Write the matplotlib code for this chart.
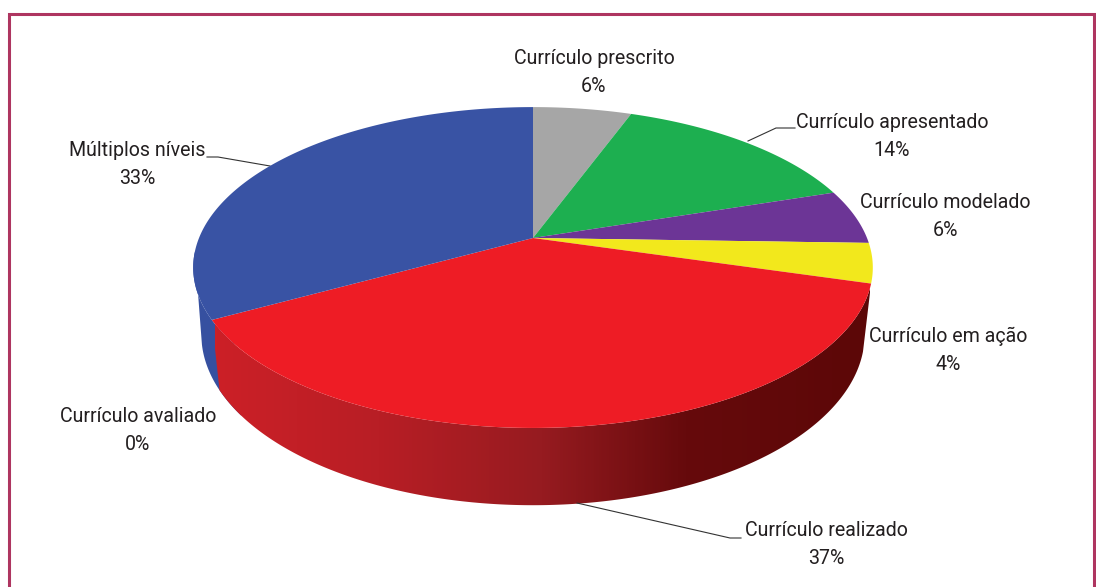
import numpy as np
import matplotlib
matplotlib.use("Agg")
import matplotlib.pyplot as plt
from matplotlib.colors import LinearSegmentedColormap
from matplotlib.patches import Polygon

# slices clockwise from 12 o'clock
names = ["Currículo prescrito", "Currículo apresentado", "Currículo modelado",
         "Currículo em ação", "Currículo realizado", "Currículo avaliado", "Múltiplos níveis"]
shares = [5.6, 14.4, 5.5, 4.0, 37.5, 0.0, 33.0]
shown = ["6%", "14%", "6%", "4%", "37%", "0%", "33%"]
colors = ["#A6A6A6", "#1DAF50", "#6C3596", "#F2E81C", "#EE1C25", "#EE1C25", "#3953A4"]

label_x = [594, 892, 945, 948, 826, 138, 137]
label_y = [59, 122, 202, 336, 531, 417, 150]

plt.rcParams['font.family'] = ['Roboto', 'DejaVu Sans']

K = 0.184


def top(a):
    x, y = np.sin(a), np.cos(a)
    w = 1 + K * y
    return 533 + 334 * x / w, 238 - 155 * y / w


def bottom(a):
    x, y = np.sin(a), np.cos(a)
    w = 1 + K * y
    return 533 + 326 * x / w, 303 - 165 * y / w


fig = plt.figure(figsize=(10.96, 5.87), dpi=100)
ax = fig.add_axes([0, 0, 1, 1])

# frame
ax.plot([9, 9, 1094, 1094], [587, 14, 14, 587], color="#AE3560", lw=2.2, solid_joinstyle="miter")

edges = np.cumsum([0] + shares) / 100 * 2 * np.pi
red_a, red_b = edges[4], edges[5]

# blue wall, left edge runs straight from the rim down to the lower disc
# starts a bit before the red edge so no gap shows under the red wall
xt, yt = top(np.linspace(red_b - 0.15, np.radians(265), 30))
xb, yb = bottom(np.linspace(np.radians(256), red_b - 0.15, 30))
ax.fill(np.r_[xt, xb], np.r_[yt, yb], color="#3650A0", lw=0, zorder=1)

# red wall, gradient clipped to the wall outline
shade = LinearSegmentedColormap.from_list("wall", [(0, "#CC2027"), (0.25, "#B81E25"),
                                                   (0.5, "#961B20"), (0.72, "#660A0C"),
                                                   (1, "#5C0707")])
aa = np.linspace(red_a, red_b, 300)
xt, yt = top(aa)
xb, yb = bottom(aa)
wall = Polygon(np.c_[np.r_[xt, xb[::-1]], np.r_[yt, yb[::-1]]], closed=True, transform=ax.transData,
               fc="none", ec="none")
ax.add_patch(wall)
im = ax.imshow(np.linspace(0, 1, 512)[None, :], cmap=shade, aspect="auto",
               extent=(215, 870, 520, 270), zorder=2)
im.set_clip_path(wall)

# top surface
for i, c in enumerate(colors):
    if shares[i] == 0:
        continue
    aa = np.linspace(edges[i], edges[i + 1], 200)
    xt, yt = top(aa)
    ax.fill(np.r_[533, xt], np.r_[238, yt], color=c, lw=0, zorder=3)

# leader lines
for px, py in [([207, 218, 270], [157, 157, 166]),
               ([795, 776, 748], [128, 128, 141]),
               ([741, 730, 577], [538, 538, 503])]:
    ax.plot(px, py, color="#333333", lw=0.8, zorder=2.5)

for n, s, x, y in zip(names, shown, label_x, label_y):
    ax.text(x, y, n, ha="center", va="center", fontsize=14.1, color="#231F20")
    ax.text(x, y + 28, s, ha="center", va="center", fontsize=14.1, color="#231F20")

ax.set_xlim(0, 1096)
ax.set_ylim(587, 0)
ax.axis("off")

fig.savefig("out.png", dpi=100)
